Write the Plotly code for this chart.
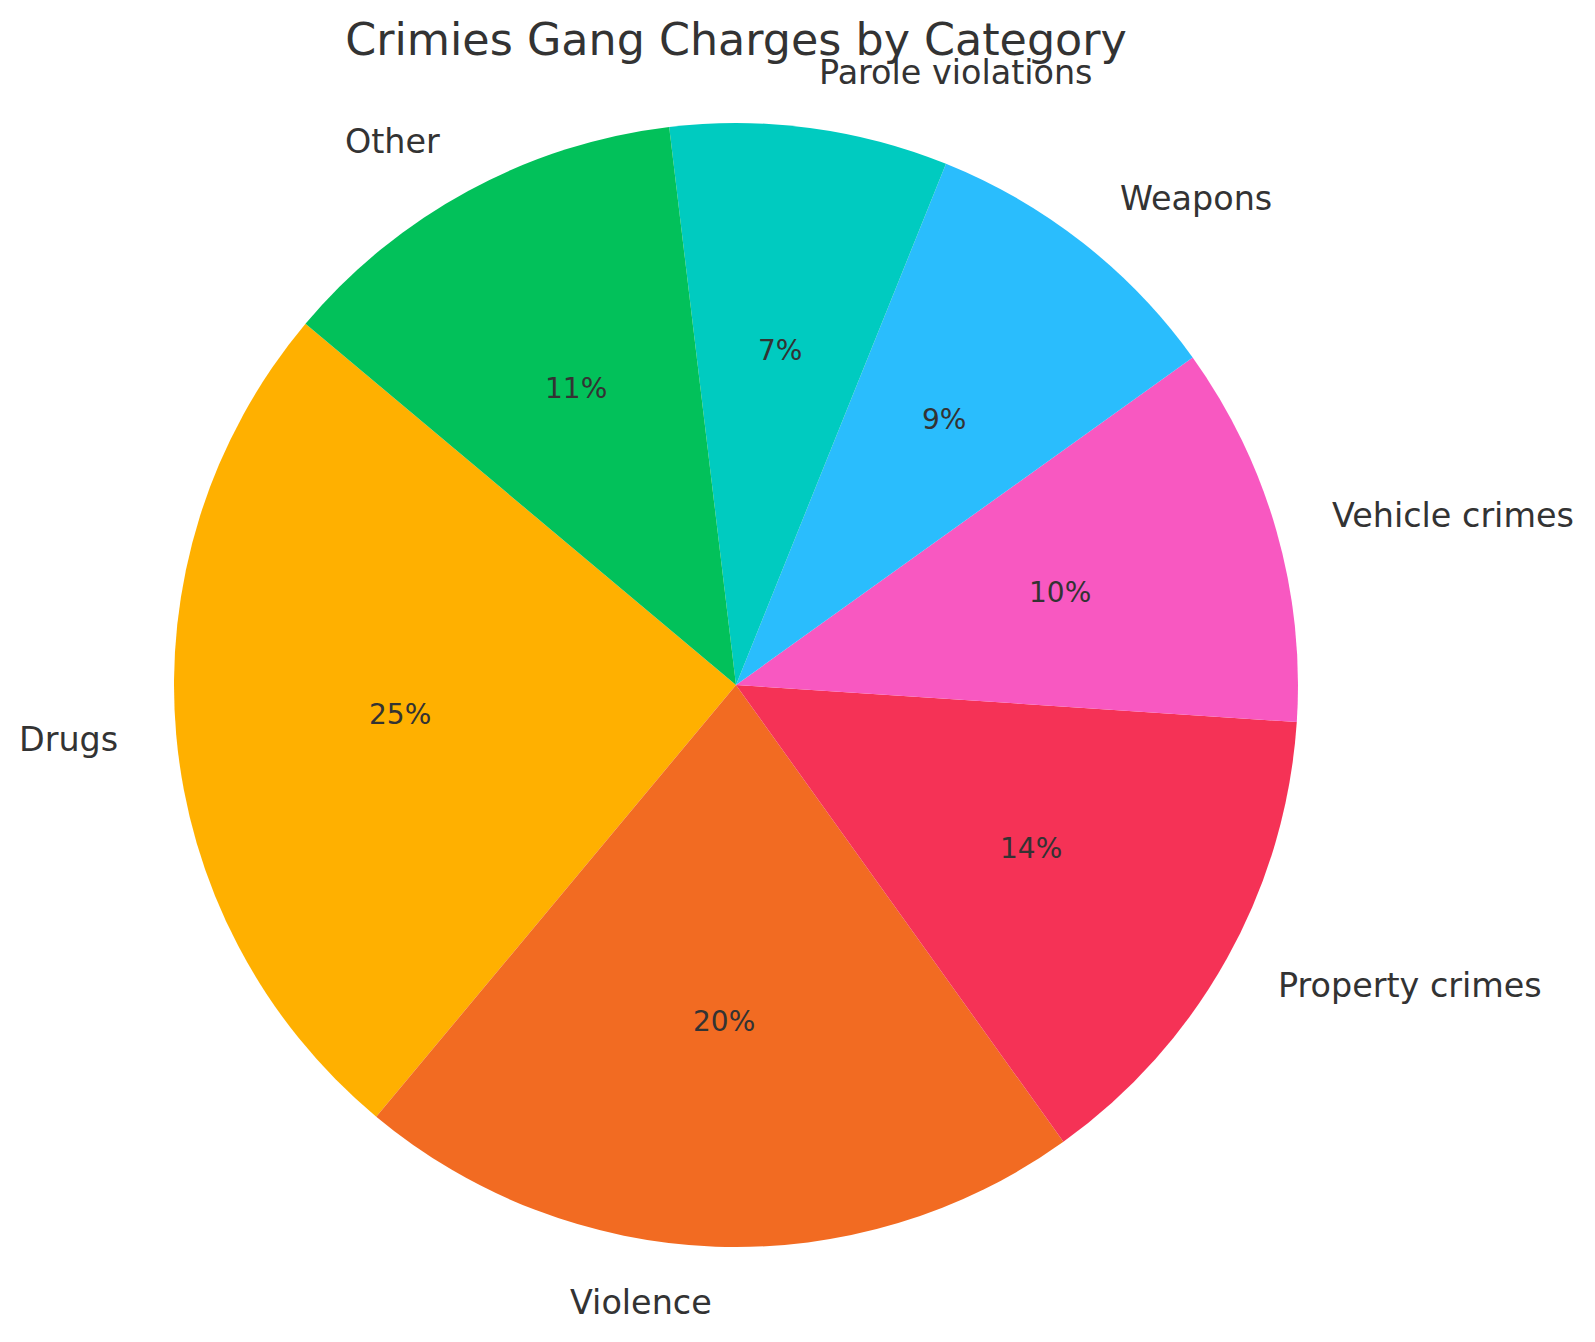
import math
import plotly.graph_objects as go

# ---- data ----
categories = ["Drugs", "Violence", "Property crimes", "Vehicle crimes",
              "Weapons", "Parole violations", "Other"]
shares = [25.05, 20.95, 14.05, 10.95, 9.0, 7.99, 11.99]
colors = ["#FFB000", "#F26B22", "#F53256", "#F858C1", "#2ABDFD", "#00CBC0", "#02C15A"]
title_text = "Crimies Gang Charges by Category"

# ---- layout constants ----
W, H = 1595, 1342
page_off = 8                        # default body margin of the page
cx, cy, R = 736 - page_off, 685 - page_off, 562   # pie centre / radius (px)
start_angle = 140                   # degrees, counter-clockwise from 3 o'clock
text_color = "#333333"
font_family = "DejaVu Sans"

total = sum(shares)
first_span = 360.0 * shares[0] / total
# plotly (counterclockwise) puts the first slice clockwise of `rotation`
rotation = 90 - start_angle - first_span

fig = go.Figure()
fig.add_trace(go.Pie(
    labels=categories,
    values=shares,
    sort=False,
    direction="counterclockwise",
    rotation=rotation,
    marker=dict(colors=colors, line=dict(width=0)),
    textinfo="none",
    hoverinfo="label+percent",
    showlegend=False,
    domain=dict(x=[(cx - R) / W, (cx + R) / W],
                y=[(H - cy - R) / H, (H - cy + R) / H]),
))

annotations = []
theta = start_angle
for cat, v in zip(categories, shares):
    span = 360.0 * v / total
    mid = math.radians(theta + span / 2)
    theta += span
    c, s = math.cos(mid), math.sin(mid)
    # percentage text at 0.6 R
    px, py = cx + 0.6 * R * c, cy - 0.6 * R * s
    annotations.append(dict(
        x=px / W, y=1 - py / H, xref="paper", yref="paper",
        text=f"{int(100 * v / total)}%", showarrow=False,
        xanchor="center", yanchor="middle",
        font=dict(size=28, color=text_color, family=font_family)))
    # category label at 1.1 R
    lx, ly = cx + 1.1 * R * c, cy - 1.1 * R * s
    annotations.append(dict(
        x=lx / W, y=1 - ly / H, xref="paper", yref="paper",
        text=cat, showarrow=False,
        xanchor="left" if c > 0 else "right", yanchor="middle",
        font=dict(size=33.4, color=text_color, family=font_family)))

fig.update_layout(
    width=W, height=H,
    margin=dict(l=0, r=0, t=0, b=0),
    paper_bgcolor="white",
    plot_bgcolor="white",
    title=dict(text=title_text, x=cx / W, xanchor="center",
               y=1 - (39 - page_off) / H, yanchor="middle", yref="container",
               font=dict(size=44.4, color=text_color, family=font_family)),
    annotations=annotations,
)

fig.write_html("out.html")
